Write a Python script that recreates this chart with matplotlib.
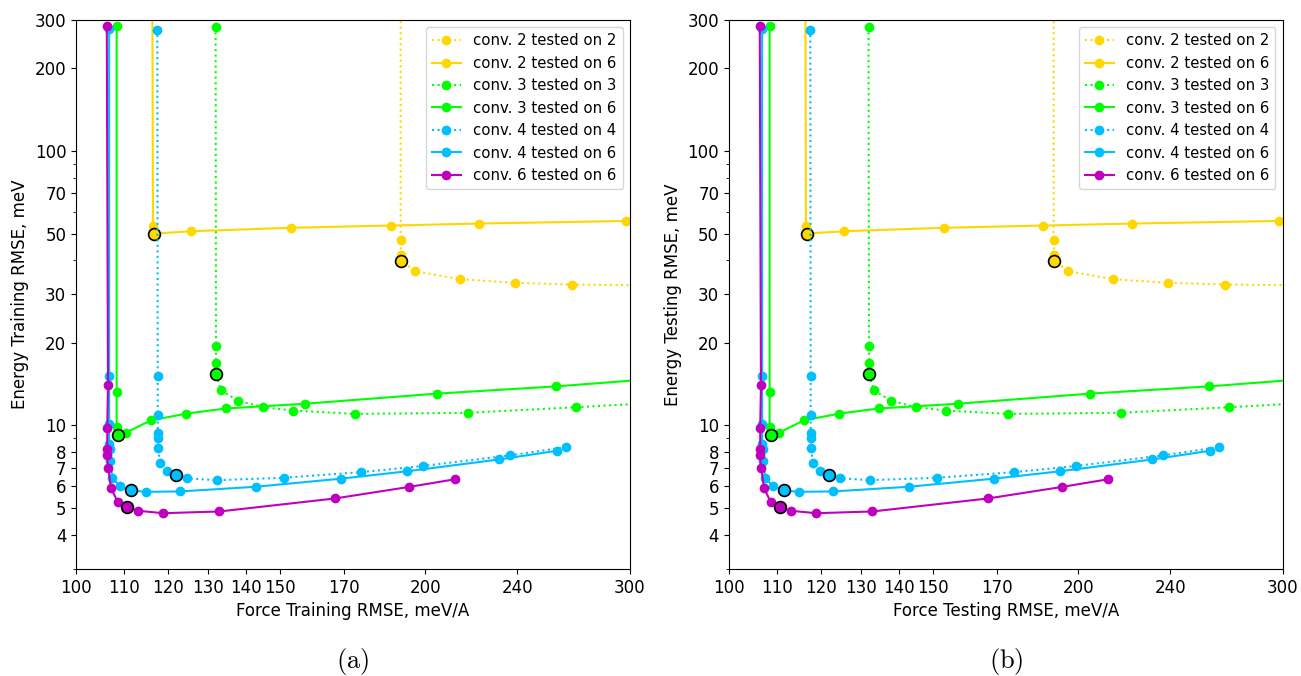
import matplotlib
matplotlib.use('Agg')
import matplotlib.pyplot as plt
import numpy as np
from matplotlib.ticker import FixedLocator, NullFormatter, NullLocator, LogLocator

plt.rcParams['mathtext.fontset'] = 'cm'

# force RMSE (meV/A) vs energy RMSE (meV)
c2_on2_x = [190.4, 190.4, 190.5, 190.6, 195.9, 214.1, 238.8, 267.4, 360]
c2_on2_y = [800, 47.3, 41.7, 39.9, 36.5, 34.1, 33.1, 32.6, 32.2]
c2_on6_x = [116.3, 116.5, 116.8, 125.6, 153.2, 186.6, 222.6, 297.6]
c2_on6_y = [800, 53.3, 50.0, 51.0, 52.5, 53.5, 54.4, 55.6]
c3_on3_x = [131.9, 132.0, 132.0, 132.0, 133.3, 138.0, 145.0, 153.9, 173.9, 217.4, 269.4, 340]
c3_on3_y = [283, 19.55, 16.9, 15.45, 13.43, 12.29, 11.65, 11.33, 11.02, 11.12, 11.65, 12.3]
c3_on6_x = [108.4, 108.4, 108.4, 108.6, 110.4, 116.0, 124.5, 134.6, 157.5, 204.6, 259.2, 350]
c3_on6_y = [285, 13.25, 9.89, 9.22, 9.41, 10.43, 11.05, 11.53, 12.0, 13.06, 13.88, 15.3]
c4_on4_x = [117.5, 117.6, 117.6, 117.6, 117.6, 117.7, 118.1, 119.7, 121.9, 124.7, 132.3,
            151.1, 176.1, 199.0, 236.6, 264.2]
c4_on4_y = [277, 15.2, 10.96, 9.35, 8.97, 8.25, 7.32, 6.83, 6.59, 6.42, 6.32,
            6.45, 6.76, 7.12, 7.78, 8.34]
c4_on6_x = [106.8, 106.8, 106.8, 106.8, 107.0, 107.0, 107.5, 109.1, 111.5, 114.8, 123.0,
            142.9, 169.1, 192.9, 231.5, 259.7]
c4_on6_y = [279, 15.1, 10.14, 8.53, 8.18, 7.40, 6.45, 6.0, 5.80, 5.73, 5.75,
            5.98, 6.40, 6.81, 7.52, 8.09]
c6_on6_x = [106.3, 106.55, 106.4, 106.4, 106.3, 106.6, 107.2, 108.6, 110.6, 113.0, 118.9,
            132.9, 167.1, 193.5, 212.2]
c6_on6_y = [285, 14.0, 9.81, 8.18, 7.80, 7.02, 5.91, 5.28, 5.05, 4.89, 4.79,
            4.86, 5.42, 5.97, 6.37]

# index of the highlighted (black edged) point in each series
best = [3, 2, 3, 3, 8, 8, 8]

series = [
    (c2_on2_x, c2_on2_y, 'conv. 2 tested on 2', '#FFD700', ':'),
    (c2_on6_x, c2_on6_y, 'conv. 2 tested on 6', '#FFD700', '-'),
    (c3_on3_x, c3_on3_y, 'conv. 3 tested on 3', '#00FF00', ':'),
    (c3_on6_x, c3_on6_y, 'conv. 3 tested on 6', '#00FF00', '-'),
    (c4_on4_x, c4_on4_y, 'conv. 4 tested on 4', '#00BFFF', ':'),
    (c4_on6_x, c4_on6_y, 'conv. 4 tested on 6', '#00BFFF', '-'),
    (c6_on6_x, c6_on6_y, 'conv. 6 tested on 6', '#BF00BF', '-'),
]

xticks = [100, 110, 120, 130, 140, 150, 170, 200, 240, 300]
yticks = [4, 5, 6, 7, 8, 10, 20, 30, 50, 70, 100, 200, 300]

fig = plt.figure(figsize=(13.01, 6.76), dpi=100)
ax1 = fig.add_axes([0.0584, 0.1583, 0.4258, 0.8121])
ax2 = fig.add_axes([0.5603, 0.1583, 0.4258, 0.8121])

for ax, name in [(ax1, 'Training'), (ax2, 'Testing')]:
    for (x, y, lab, col, ls), b in zip(series, best):
        ax.plot(x, y, ls, color=col, marker='o', markersize=6, linewidth=1.5, label=lab)
        ax.plot(x[b], y[b], 'o', color=col, markersize=8.5, markeredgecolor='black',
                markeredgewidth=1.2)
    ax.set_xscale('log')
    ax.set_yscale('log')
    ax.set_xlim(100, 300)
    ax.set_ylim(3, 300)
    ax.xaxis.set_major_locator(FixedLocator(xticks))
    ax.xaxis.set_major_formatter(plt.FixedFormatter([str(t) for t in xticks]))
    ax.xaxis.set_minor_locator(NullLocator())
    ax.yaxis.set_major_locator(FixedLocator(yticks))
    ax.yaxis.set_major_formatter(plt.FixedFormatter([str(t) for t in yticks]))
    ax.yaxis.set_minor_locator(LogLocator(subs=np.arange(2, 10)))
    ax.yaxis.set_minor_formatter(NullFormatter())
    ax.tick_params(labelsize=12)
    ax.set_xlabel('Force %s RMSE, meV/A' % name, fontsize=12)
    ax.set_ylabel('Energy %s RMSE, meV' % name, fontsize=12)
    ax.legend(loc='upper right', fontsize=10.7)

fig.text(0.2713, 0.012, r'$\mathrm{(a)}$', ha='center', fontsize=19)
fig.text(0.7732, 0.012, r'$\mathrm{(b)}$', ha='center', fontsize=19)

plt.savefig('out.png')
